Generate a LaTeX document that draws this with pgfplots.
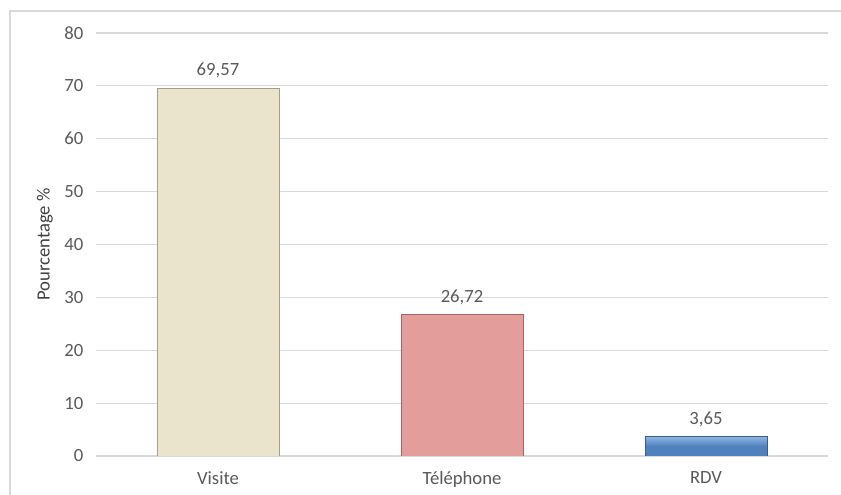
\documentclass[border=0pt]{standalone}
\usepackage{fontspec}
\setmainfont{Carlito}
\usepackage{pgfplots}
\pgfplotsset{compat=1.18}
\definecolor{txt}{HTML}{595959}
\definecolor{lbl}{HTML}{404040}
\definecolor{gridc}{HTML}{D9D9D9}
\definecolor{visite}{HTML}{EAE4CD}
\definecolor{visiteb}{HTML}{A39E86}
\definecolor{tel}{HTML}{E39D9B}
\definecolor{telb}{HTML}{A86563}
\definecolor{rdv}{HTML}{4F81BD}
\definecolor{rdvtop}{HTML}{8DB4E3}
\definecolor{rdvb}{HTML}{385D8A}

\begin{document}
\begin{tikzpicture}[font=\fontsize{14}{16}\selectfont]
% page = 841 x 495 px, 1 px = 0.75pt, axis box at (96,456) px
\path[use as bounding box] (-72pt,-29.25pt) rectangle (558.75pt,342pt);
\draw[gridc, line width=1pt] (-64.5pt,-29.25pt) -- (-64.5pt,333.75pt) -- (558.75pt,333.75pt);
\begin{axis}[
  scale only axis, width=549pt, height=317.25pt,
  anchor=south west, at={(0,0)},
  xmin=-0.5, xmax=2.5, ymin=0, ymax=80,
  xtick={0,1,2}, xticklabels={Visite,Téléphone,RDV},
  ytick={0,10,...,80},
  /pgf/number format/assume math mode=true,
  axis line style={draw=none}, major tick length=0pt,
  ymajorgrids, grid style={gridc, line width=0.9pt},
  tick label style={text=txt},
  yticklabel style={xshift=-6pt},
  xticklabel style={yshift=-8pt},
  ylabel={Pourcentage \%},
  every axis y label/.style={at={(axis description cs:-0.07,0.5)}, rotate=90, anchor=center, text=lbl},
  ybar, bar width=0.5, bar shift=0pt,
  nodes near coords={\pgfmathprintnumber[use comma,fixed,fixed zerofill,precision=2]{\pgfplotspointmeta}},
  every node near coord/.append style={text=txt, yshift=4pt},
]
\addplot[fill=visite, draw=visiteb] coordinates {(0,69.57)};
\addplot[fill=tel, draw=telb] coordinates {(1,26.72)};
\addplot[draw=rdvb, top color=rdvtop, bottom color=rdv, middle color=rdv] coordinates {(2,3.65)};
\end{axis}
\end{tikzpicture}
\end{document}
